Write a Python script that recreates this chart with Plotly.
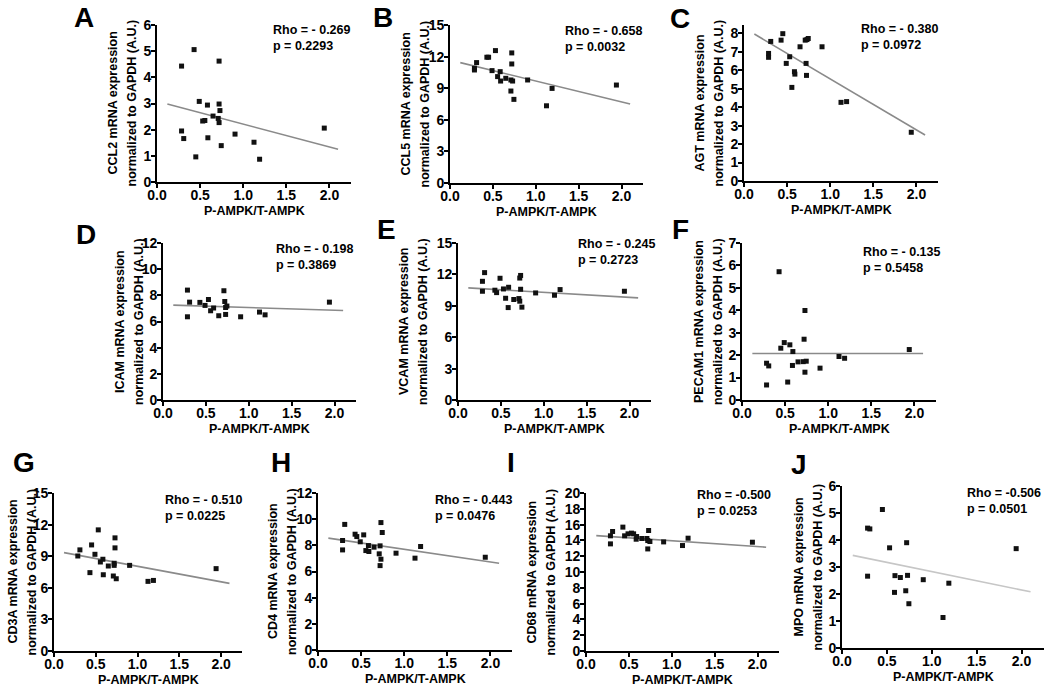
import plotly.graph_objects as go

W, H = 1050, 690

# ---- data ----
labels = ["A", "B", "C", "D", "E", "F", "G", "H", "I", "J"]
genes = ["CCL2", "CCL5", "AGT", "ICAM", "VCAM", "PECAM1", "CD3A", "CD4", "CD68", "MPO"]
rho_text = ["- 0.269", "- 0.658", "- 0.380", "- 0.198", "- 0.245", "- 0.135",
            "- 0.510", "- 0.443", "-0.500", "-0.506"]
p_text = ["0.2293", "0.0032", "0.0972", "0.3869", "0.2723", "0.5458",
          "0.0225", "0.0476", "0.0253", "0.0501"]

A_x = [0.285, 0.43, 0.72, 0.49, 0.585, 0.72, 0.73, 0.65, 0.53, 0.555, 0.71, 0.72,
       0.285, 0.31, 0.59, 0.745, 0.905, 1.125, 1.19, 0.45, 1.94]
A_y = [4.43, 5.06, 4.62, 3.08, 2.94, 2.98, 2.73, 2.52, 2.33, 2.35, 2.43, 2.27,
       1.95, 1.66, 1.69, 1.39, 1.83, 1.52, 0.87, 0.96, 2.06]

B_x = [0.285, 0.285, 0.31, 0.43, 0.45, 0.53, 0.49, 0.555, 0.585, 0.59, 0.65, 0.72,
       0.72, 0.71, 0.73, 0.71, 0.745, 0.905, 1.125, 1.19, 1.94]
B_y = [10.89, 10.73, 11.43, 11.94, 11.94, 12.57, 10.67, 10.10, 10.57, 9.68, 9.94, 12.35,
       11.30, 9.78, 9.68, 8.73, 7.94, 9.78, 7.33, 8.98, 9.30]

C_x = [0.285, 0.285, 0.31, 0.43, 0.45, 0.49, 0.53, 0.555, 0.585, 0.59, 0.65, 0.71,
       0.73, 0.72, 0.725, 0.745, 0.905, 1.125, 1.19, 1.94]
C_y = [6.91, 6.70, 7.56, 7.63, 7.98, 6.37, 6.73, 5.07, 5.92, 5.79, 7.27, 7.63,
       7.66, 6.37, 5.72, 7.72, 7.27, 4.26, 4.30, 2.64]

D_x = [0.285, 0.285, 0.31, 0.43, 0.49, 0.53, 0.555, 0.59, 0.65, 0.71, 0.72, 0.73,
       0.745, 0.73, 0.905, 1.125, 1.19, 1.94]
D_y = [8.40, 6.36, 7.48, 7.46, 7.23, 7.68, 6.82, 7.03, 6.44, 8.35, 7.53, 7.07,
       7.18, 6.54, 6.36, 6.72, 6.51, 7.48]

E_x = [0.285, 0.285, 0.31, 0.43, 0.45, 0.49, 0.53, 0.555, 0.585, 0.59, 0.65, 0.71,
       0.72, 0.73, 0.72, 0.73, 0.745, 0.905, 1.125, 1.19, 1.94]
E_y = [11.34, 10.39, 12.17, 10.49, 10.26, 11.63, 10.61, 9.72, 8.83, 10.77, 9.60, 9.69,
       9.44, 11.90, 11.65, 10.58, 8.87, 10.23, 10.01, 10.55, 10.39]

F_x = [0.43, 0.73, 0.72, 0.49, 0.45, 0.555, 0.59, 0.285, 0.31, 0.585, 0.65, 0.71,
       0.745, 0.73, 0.905, 1.125, 1.19, 0.285, 0.53, 1.94]
F_y = [5.72, 3.99, 2.71, 2.56, 2.31, 2.46, 2.16, 1.64, 1.52, 1.54, 1.70, 1.71,
       1.73, 1.24, 1.42, 1.94, 1.86, 0.67, 0.80, 2.25]

G_x = [0.285, 0.31, 0.43, 0.45, 0.49, 0.53, 0.555, 0.585, 0.59, 0.65, 0.73, 0.73,
       0.72, 0.72, 0.71, 0.745, 0.905, 1.125, 1.19, 1.94]
G_y = [9.02, 9.60, 7.44, 10.07, 9.18, 11.50, 8.45, 8.71, 7.24, 8.07, 10.74, 9.79,
       8.33, 8.13, 7.12, 6.86, 8.13, 6.61, 6.70, 7.82]

H_x = [0.285, 0.285, 0.31, 0.43, 0.45, 0.49, 0.53, 0.555, 0.585, 0.59, 0.65, 0.71,
       0.73, 0.72, 0.73, 0.72, 0.745, 0.905, 1.125, 1.19, 1.94]
H_y = [7.65, 8.37, 9.60, 8.85, 8.67, 8.27, 8.80, 7.60, 7.98, 7.53, 7.86, 7.35,
       9.74, 7.96, 6.94, 6.45, 8.98, 7.40, 7.02, 7.91, 7.09]

I_x = [0.285, 0.285, 0.31, 0.43, 0.45, 0.49, 0.53, 0.555, 0.585, 0.59, 0.65, 0.73,
       0.71, 0.72, 0.72, 0.745, 0.905, 1.125, 1.19, 1.94]
I_y = [13.56, 14.58, 15.13, 15.68, 14.58, 14.83, 14.92, 14.83, 14.15, 14.49, 14.24, 15.25,
       14.24, 13.98, 12.92, 13.86, 13.81, 13.35, 14.28, 13.77]

J_x = [0.285, 0.285, 0.31, 0.45, 0.53, 0.72, 0.59, 0.65, 0.73, 0.585, 0.71, 0.745,
       0.905, 1.19, 1.125, 1.94]
J_y = [2.66, 4.44, 4.41, 5.13, 3.71, 3.90, 2.68, 2.61, 2.69, 2.06, 2.12, 1.64,
       2.53, 2.40, 1.13, 3.68]

# regression line ends
fit_x = [0.12, 2.1]
fit_y = [[2.98, 1.25], [11.43, 7.50], [7.96, 2.49], [7.25, 6.84], [10.71, 9.76],
         [2.07, 2.07], [9.34, 6.42], [8.55, 6.63], [14.6, 13.14], [3.43, 2.08]]

xs = [A_x, B_x, C_x, D_x, E_x, F_x, G_x, H_x, I_x, J_x]
ys = [A_y, B_y, C_y, D_y, E_y, F_y, G_y, H_y, I_y, J_y]
y_max = [6, 15, 8.45, 12, 15, 7, 15, 12, 20, 6]
y_step = [1, 3, 1, 2, 3, 1, 3, 2, 2, 1]

# ---- panel layout in pixels: left, right, top, bottom ----
boxes = [(157, 351, 25, 182), (450, 643, 25, 183), (744, 938, 25, 181),
         (163, 356, 243, 400), (458, 651, 243, 400), (742, 936, 243, 400),
         (54, 242, 493, 651), (318, 512, 493, 650), (586, 779, 493, 651),
         (842, 1044, 486, 648)]
ytitle_x = [121.5, 415, 709, 130, 414, 709, 22, 282, 541, 808]
rho_pos = [(271, 38), (563, 39), (859, 37), (274, 257), (576, 252), (861, 260),
           (163, 508), (433, 508), (695, 503), (965, 501)]
letter_pos = [(84, 18), (383, 17), (680, 19), (86, 235), (386, 229), (680, 229),
              (24, 462), (281, 462), (511, 462), (799, 464)]

FONT = "Arial, Liberation Sans, sans-serif"


def px(x):
    return x / W


def py(y):
    return 1 - y / H


fig = go.Figure()
layout = {}
ann = []

for i in range(10):
    n = "" if i == 0 else str(i + 1)
    l, r, t, b = boxes[i]
    ax_style = dict(showline=True, linecolor="black", linewidth=1.6, ticks="outside",
                    ticklen=4, tickwidth=1.6, tickcolor="black", showgrid=False,
                    zeroline=False, automargin=False,
                    tickfont=dict(family=FONT, size=14, color="black", weight="bold"))
    layout["xaxis" + n] = dict(domain=[px(l), px(r)], anchor="y" + n, range=[0, 2.25],
                               tickvals=[0, 0.5, 1.0, 1.5, 2.0], tickformat=".1f",
                               ticklabelstandoff=-5, **ax_style)
    layout["yaxis" + n] = dict(domain=[py(b), py(t)], anchor="x" + n, range=[0, y_max[i]],
                               dtick=y_step[i], tick0=0, ticklabelstandoff=-3, **ax_style)

    fig.add_trace(go.Scatter(x=fit_x, y=fit_y[i], mode="lines",
                             line=dict(color="#c6c6c6" if i == 9 else "#8a8a8a", width=1.6),
                             xaxis="x" + n, yaxis="y" + n, showlegend=False))
    fig.add_trace(go.Scatter(x=xs[i], y=ys[i], mode="markers",
                             marker=dict(symbol="square", size=5, color="#111111"),
                             xaxis="x" + n, yaxis="y" + n, showlegend=False))

    bold = dict(family=FONT, size=12.5, color="black", weight="bold")
    # x title
    ann.append(dict(text="P-AMPK/T-AMPK", x=px((l + r) / 2), y=py(b + 29), xref="paper",
                    yref="paper", showarrow=False, font=bold, xanchor="center",
                    yanchor="middle"))
    # y title (two lines)
    for k, line in enumerate([genes[i] + " mRNA expression", "normalized to GAPDH (A.U.)"]):
        ann.append(dict(text=line, x=px(ytitle_x[i] - 9.5 + 19 * k), y=py((t + b) / 2),
                        xref="paper", yref="paper", showarrow=False, textangle=-90,
                        font=bold, xanchor="center", yanchor="middle"))
    # stats
    ann.append(dict(text="Rho = " + rho_text[i] + "<br>p = " + p_text[i],
                    x=px(rho_pos[i][0]), y=py(rho_pos[i][1]), xref="paper", yref="paper",
                    showarrow=False, font=bold, xanchor="left", yanchor="middle",
                    align="left"))
    # panel letter
    ann.append(dict(text=labels[i], x=px(letter_pos[i][0]), y=py(letter_pos[i][1]),
                    xref="paper", yref="paper", showarrow=False, xanchor="center",
                    yanchor="middle",
                    font=dict(family=FONT, size=28, color="black", weight="bold")))

fig.update_layout(template="none", width=W, height=H, margin=dict(l=0, r=0, t=0, b=0),
                  paper_bgcolor="white", plot_bgcolor="white", annotations=ann,
                  **layout)

# page body has a default margin; remove it so the figure sits at the corner
fig.write_html("out.html", config={"displayModeBar": False},
               post_script="document.body.style.margin='0';")
